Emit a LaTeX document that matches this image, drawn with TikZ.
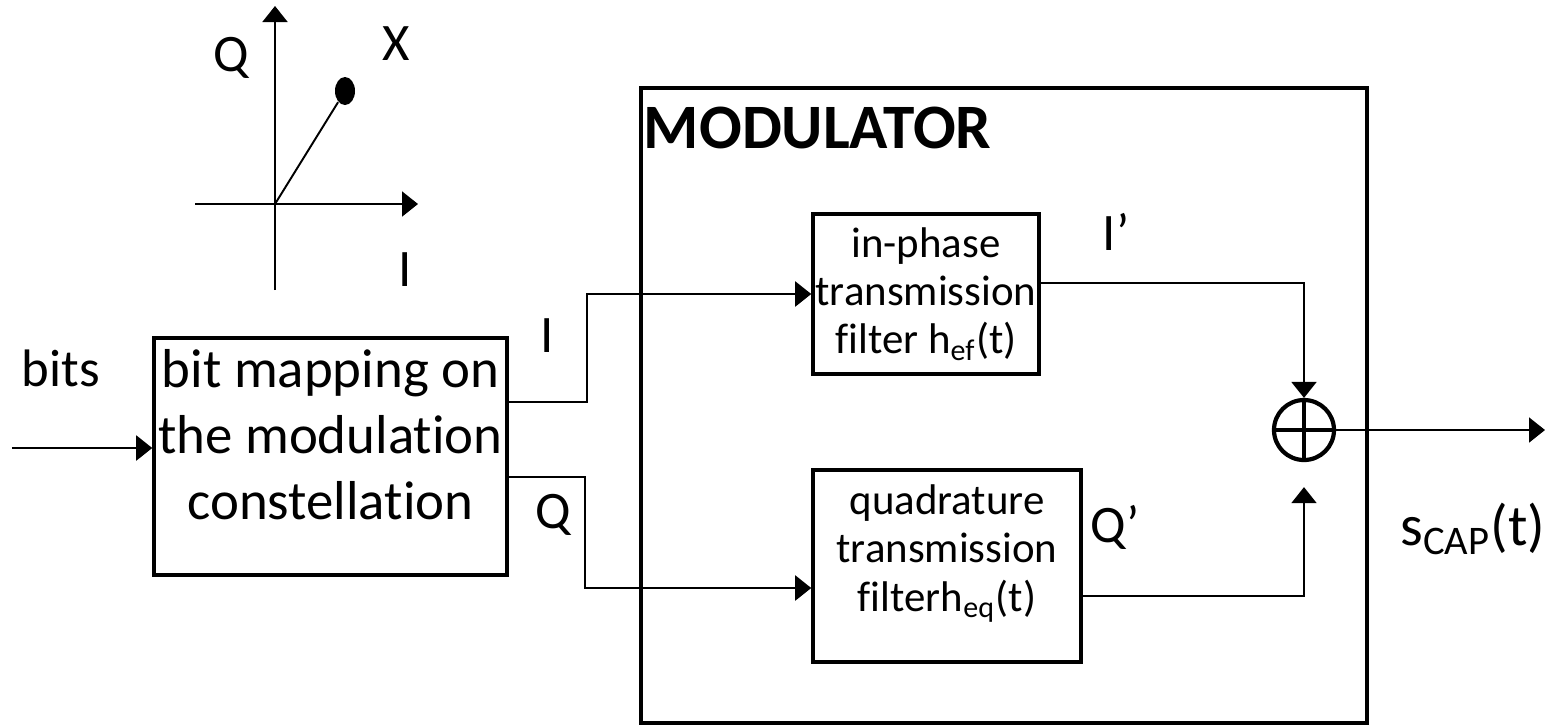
\documentclass[tikz,border=0pt]{standalone}
\usepackage{fontspec}
\setmainfont{Carlito}[Ligatures=NoCommon]
\usepackage{tikz}
\usetikzlibrary{arrows.meta, positioning, shapes.geometric}

\begin{document}
\begin{tikzpicture}[
  box/.style={rectangle, draw, line width=1pt, inner sep=0pt},
  maptxt/.style={align=center, inner sep=0pt, font=\fontsize{15.6}{18.8}\selectfont},
  filttxt/.style={align=center, inner sep=0pt, font=\fontsize{12.2}{13.7}\selectfont},
  lbl/.style={inner sep=0pt, font=\fontsize{15}{17}\selectfont},
  line/.style={line width=0.55pt},
  arrow/.style={line, -{Triangle[length=1.6mm, width=2.5mm]}},
  dot/.style={ellipse, fill, minimum width=0.2cm, minimum height=0.28cm, inner sep=0pt},
  sumnode/.style={circle, draw, line width=1.2pt, minimum size=0.6cm, inner sep=0pt,
    path picture={\draw[line width=1.3pt]
      (path picture bounding box.north) -- (path picture bounding box.south)
      (path picture bounding box.west) -- (path picture bounding box.east);}}
]
  \useasboundingbox (0,0) rectangle (15.55,-7.26);

  % constellation
  \coordinate (origin) at (2.75,-2.04);
  \coordinate (qbot) at (2.75,-2.90);
  \coordinate (qtop) at (2.75,-0.06);
  \coordinate (ileft) at (1.95,-2.04);
  \coordinate (iright) at (4.18,-2.04);
  \node[dot] (pt) at (3.45,-0.91) {};
  \draw[arrow] (qbot) -- (qtop);
  \draw[arrow] (ileft) -- (iright);
  \draw[line] (origin) -- (pt);
  \node[lbl] (qax) at (2.31,-0.58) {Q};
  \node[lbl] (xpt) at (3.96,-0.44) {X};
  \node[lbl] (iax) at (4.05,-2.70) {I};

  % bit mapping
  \node[box, minimum width=3.53cm, minimum height=2.37cm] (map) at (3.305,-4.565) {};
  \node[maptxt, anchor=north] (maptext) at ([yshift=-0.12cm]map.north)
    {bit mapping on\\the modulation\\constellation};
  \node[lbl] (bits) at (0.61,-3.68) {bits};
  \coordinate (src) at (0.12,-4.48);
  \draw[arrow] (src) -- (src -| map.west);

  % modulator
  \node[box, minimum width=7.26cm, minimum height=6.35cm] (mod) at (10.04,-4.055) {};
  \node[anchor=north west, inner sep=0pt, font=\fontsize{18}{20}\selectfont\bfseries]
    (modlab) at ([xshift=0.04cm, yshift=-0.2cm]mod.north west) {MODULATOR};
  \node[box, filttxt, minimum width=2.26cm, minimum height=1.6cm] (inph) at (9.26,-2.94)
    {in-phase\\transmission\\filter h\textsubscript{ef}(t)};
  \node[box, minimum width=2.68cm, minimum height=1.92cm] (quad) at (9.47,-5.66) {};
  \node[filttxt, anchor=north] (quadtext) at ([yshift=-0.16cm]quad.north)
    {quadrature\\transmission\\filterh\textsubscript{eq}(t)};
  \node[sumnode] (sum) at (13.04,-4.30) {};

  % I and Q branches
  \draw[arrow] (map.east |- 0,-4.02) -- (5.87,-4.02) |- (inph.west);
  \draw[arrow] (map.east |- 0,-4.77) -- (5.85,-4.77) |- ([yshift=-0.22cm]quad.west);
  \node[lbl] (ilbl) at (5.47,-3.36) {I};
  \node[lbl] (qlbl) at (5.53,-5.15) {Q};

  \draw[arrow] ([yshift=0.11cm]inph.east) -| (sum.north);
  \draw[arrow] ([yshift=-0.30cm]quad.east) -| ([yshift=-0.25cm]sum.south);
  \node[lbl] (iplbl) at (11.16,-2.32) {I’};
  \node[lbl] (qplbl) at (11.15,-5.27) {Q’};

  % output
  \coordinate (out) at (15.45,-4.30);
  \draw[arrow] (sum.east) -- (out);
  \node[inner sep=0pt, font=\fontsize{16.5}{19}\selectfont] (scap) at (14.73,-5.29)
    {s\textsubscript{CAP}(t)};
\end{tikzpicture}
\end{document}
